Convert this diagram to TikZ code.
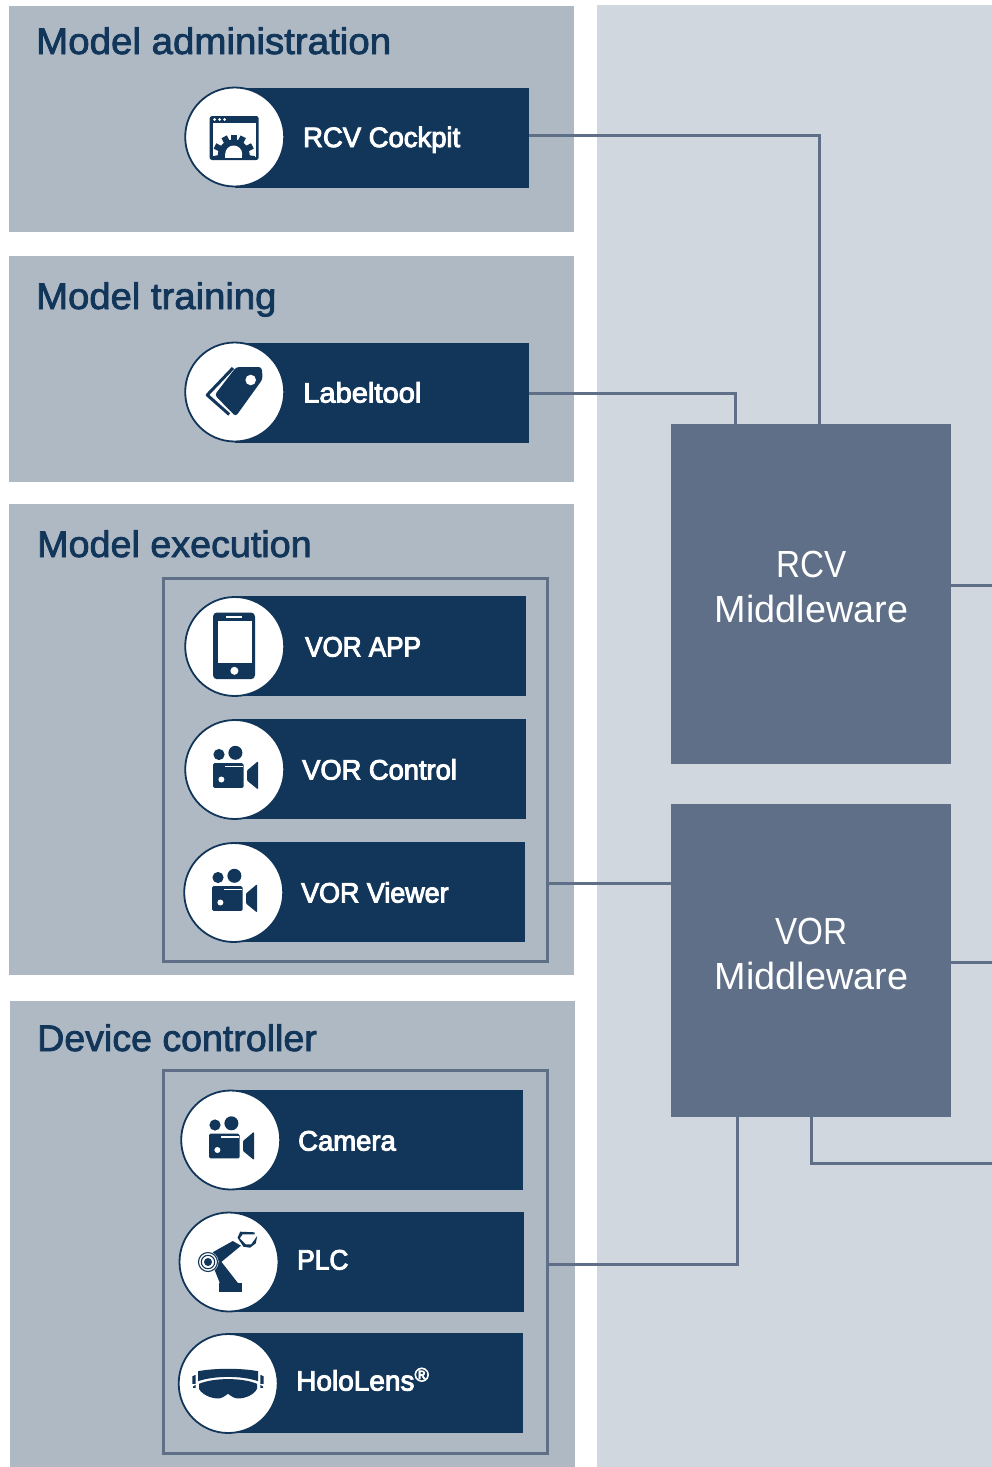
\documentclass[tikz,border=0pt]{standalone}
\usepackage{fontspec}
\usetikzlibrary{fit,calc}
\setmainfont{Liberation Sans}
\newfontfamily\headf[FakeBold=2.2]{Liberation Sans}
\newfontfamily\labf[FakeBold=3.4]{Liberation Sans}
\definecolor{panel}{HTML}{AFB9C4}
\definecolor{pale}{HTML}{D0D7DF}
\definecolor{navy}{HTML}{12365A}
\definecolor{slate}{HTML}{5E6F87}
\tikzset{
  x=1pt,y=-1pt,
  panelbox/.style={fill=panel,draw=none,inner sep=0pt},
  barbox/.style={fill=navy,draw=none,inner sep=0pt,minimum height=100pt,minimum width=#1},
  iconcircle/.style={circle,fill=white,draw=navy,line width=1.8pt,minimum size=99pt,inner sep=0pt},
  framebox/.style={draw=slate,line width=3pt,fill=none,inner sep=0pt},
  mwbox/.style={fill=slate,draw=none,inner sep=0pt},
  mwtext/.style={text=white,align=center,inner sep=0pt,font=\fontsize{37.8}{45}\selectfont},
  heading/.style={anchor=base west,inner sep=0pt,text=navy,font=\headf\fontsize{37}{44}\selectfont},
  barlabel/.style={anchor=base west,inner sep=0pt,text=white,font=\labf\fontsize{28}{34}\selectfont},
  wire/.style={draw=slate,line width=3pt},
}
\newcommand{\camicon}[1]{%
  \begin{scope}[shift={(#1)}]
    \fill[navy] (-15.7,-15) circle (5.6);
    \fill[navy] (0.7,-16.7) circle (7);
    \fill[navy,rounded corners=1.5pt] (-21.7,-6.3) rectangle (9,18.3);
    \fill[white] (-10,-3.8) rectangle (8.5,-2.3);
    \fill[white] (-13.3,10) circle (3);
    \fill[navy,rounded corners=1pt] (12.3,1) -- (23.3,-8.3) -- (23.3,20) -- (12.3,11) -- cycle;
  \end{scope}}
\newcommand{\st}[1]{\addfontfeature{FakeStretch=#1}}
\begin{document}
\begin{tikzpicture}
\useasboundingbox (0,0) rectangle (992,1467);
\fill[white] (0,0) rectangle (992,1467);
% panels
\node[panelbox,fit={(9,6)(574,232)}] (panelA) {};
\node[panelbox,fit={(9,256)(574,482)}] (panelB) {};
\node[panelbox,fit={(9,504)(574,975)}] (panelC) {};
\node[panelbox,fit={(10,1001)(575,1467)}] (panelD) {};
\node[fill=pale,inner sep=0pt,fit={(597,5)(992,1467)}] (rightpanel) {};
% headings
\node[heading] (hA) at (36,54) {\st{1.04}Model administration};
\node[heading] (hB) at (36,309) {\st{1.034}Model training};
\node[heading] (hC) at (37,557) {\st{1.019}Model execution};
\node[heading] (hD) at (37,1051) {\st{1.015}Device controller};
% frames
\node[framebox,fit={(163,578)(547,961)}] (frameA) {};
\node[framebox,fit={(163,1070)(547,1453)}] (frameB) {};
% middleware
\node[mwbox,minimum width=280pt,minimum height=340pt] (rcv) at (811,594) {};
\node[mwbox,minimum width=280pt,minimum height=313pt] (vor) at (811,960.5) {};
\node[mwtext] (rcvText) at (811.5,587) {{\st{0.88}RCV}\\Middleware};
\node[mwtext] (vorText) at (811.5,953.5) {{\st{0.88}VOR}\\Middleware};
% connector ends
\coordinate (endA) at (992,585);
\coordinate (endB) at (992,962);
\coordinate (endC) at (992,1163);
% bars
\node[barbox=294pt] (barCockpit) at (382,138) {};
\node[barbox=294pt] (barLabel) at (382,393) {};
\node[barbox=291pt] (barApp) at (380.5,646) {};
\node[barbox=291pt] (barControl) at (380.5,769) {};
\node[barbox=291pt] (barViewer) at (379.5,892) {};
\node[barbox=292pt] (barCamera) at (377,1140) {};
\node[barbox=294pt] (barPlc) at (377,1262) {};
\node[barbox=294pt] (barHolo) at (376,1383) {};
% circles
\node[iconcircle] (cCockpit) at (234.7,137) {};
\node[iconcircle] (cLabel) at (234.7,392) {};
\node[iconcircle] (cApp) at (234.7,646.5) {};
\node[iconcircle] (cControl) at (234.7,769.5) {};
\node[iconcircle] (cViewer) at (233.7,892.5) {};
\node[iconcircle] (cCamera) at (230.7,1140) {};
\node[iconcircle] (cPlc) at (229,1262) {};
\node[iconcircle] (cHolo) at (228.2,1383.5) {};
% labels
\node[barlabel] (lCockpit) at (303,147) {\st{0.98}RCV Cockpit};
\node[barlabel] (lLabel) at (303,402.5) {\st{1.04}Labeltool};
\node[barlabel] (lApp) at (305,656.5) {\st{0.93}VOR APP};
\node[barlabel] (lControl) at (302,779.5) {\st{0.975}VOR Control};
\node[barlabel] (lViewer) at (301,902.5) {\st{0.96}VOR Viewer};
\node[barlabel] (lCamera) at (298,1150.5) {\st{0.98}Camera};
\node[barlabel] (lPlc) at (297,1269.5) {\st{0.94}PLC};
\node[barlabel] (lHolo) at (296,1390.5) {HoloLens\textsuperscript{®}};
% connectors
\draw[wire] ([yshift=3pt]barCockpit.east) -| ([xshift=8pt]rcv.north);
\draw[wire] (barLabel.east) -| ([xshift=-76pt]rcv.north);
\draw[wire] (rcv.east |- endA) -- (endA);
\draw[wire] (frameA.east |- 0,883) -- (vor.west |- 0,883);
\draw[wire] (vor.east |- endB) -- (endB);
\draw[wire] (vor.south) |- (endC);
\draw[wire] ([xshift=-74pt]vor.south) |- (frameB.east |- 0,1264);
% window icon
\begin{scope}[shift={(cCockpit.center)}]
  \fill[navy,rounded corners=2.5pt] (-25,-21) rectangle (24,23);
  \fill[white] (-22,-14) rectangle (21,20);
  \foreach \q in {-20,-15,-10} \fill[white] (\q,-17.5) circle (1.5);
  \begin{scope}
    \clip (-22,-14) rectangle (21,20.5);
    \fill[navy] (-1,18.5) circle (16);
    \foreach \a in {-10,27,63,90,117,153,190} \fill[navy,rotate around={\a:(-1,18.5)}] (12,15.5) rectangle (20,21.5);
    \fill[white] (-1,17) circle (8.5);
    \fill[white] (-9.5,17) rectangle (7.5,20.5);
  \end{scope}
\end{scope}
% tag icon
\begin{scope}[shift={(cLabel.center)}]
  \fill[navy,rounded corners=3pt] (27,-25) -- (1.5,-25) -- (-20,3) -- (1,24.5) -- (28,-13) -- cycle;
  \fill[white] (16,-12) circle (5.3);
  \draw[navy,line width=3pt,line join=round] (-1.7,-24) -- (-27.5,3) -- (-5.5,22.5);
\end{scope}
% phone icon
\begin{scope}[shift={(cApp.center)}]
  \fill[navy,rounded corners=4pt] (-21.7,-34) rectangle (20.3,32.7);
  \fill[white] (-17,-26) rectangle (17,16);
  \fill[white] (-9,-31) rectangle (7.7,-29);
  \fill[white] (-0.3,24.3) circle (4);
\end{scope}
% camera icons
\camicon{cControl.center}
\camicon{cViewer.center}
\camicon{cCamera.center}
% robot icon
\begin{scope}[shift={(cPlc.center)}]
  \fill[navy] (-10.2,21.3) rectangle (12.8,30.3);
  \fill[navy] (-15.7,4.7) -- (-9,21.5) -- (9.3,21.5) -- (-9,-2) -- cycle;
  \fill[navy] (-16.2,-9.8) -- (3.8,-21) -- (12,-16.3) -- (-9,1) -- cycle;
  \fill[navy] (8.5,-24.3) -- (11.2,-30.3) -- (25.5,-29.7) -- (25.5,-27.7) -- (13.5,-27.7) -- (10.8,-23.7) -- (16.8,-17.7) -- (22.2,-17.7) -- (28.2,-26) -- (26.8,-18.7) -- (21,-14.3) -- (14.5,-15.3) -- cycle;
  \fill[white] (-21,0) circle (10.5);
  \draw[navy,line width=1.1pt] (-21,0) circle (9.5);
  \draw[navy,line width=1.1pt] (-21,0) circle (6.7);
  \fill[navy] (-21,0) circle (4);
\end{scope}
% hololens icon
\begin{scope}[shift={(cHolo.center)}]
  \fill[navy] (-30.2,-12.3) .. controls (-14,-15.5) and (14,-15.5) .. (29.8,-12.3) -- (29.8,-2.3) .. controls (14,-8) and (-14,-8) .. (-30.2,-2.3) -- cycle;
  \fill[navy] (-29.2,0.3) .. controls (-14,-6) and (14,-6) .. (28.8,0.3) -- (28.8,5.3) .. controls (26,12) and (12,17.5) .. (4.8,13.7) -- (-0.2,10.3) -- (-5.2,13.7) .. controls (-12,17.5) and (-26,12) .. (-29.2,5.3) -- cycle;
  \fill[navy] (-35.8,-7.3) -- (-32.5,-8.7) -- (-32.5,0.3) -- (-35.8,0.3) -- cycle;
  \fill[navy] (-35.2,3) -- (-32.5,1.3) -- (-32.5,4.3) -- (-35.2,4.3) -- cycle;
  \fill[navy] (35.4,-7.3) -- (32.1,-8.7) -- (32.1,0.3) -- (35.4,0.3) -- cycle;
  \fill[navy] (34.8,3) -- (32.1,1.3) -- (32.1,4.3) -- (34.8,4.3) -- cycle;
\end{scope}
\end{tikzpicture}
\end{document}
